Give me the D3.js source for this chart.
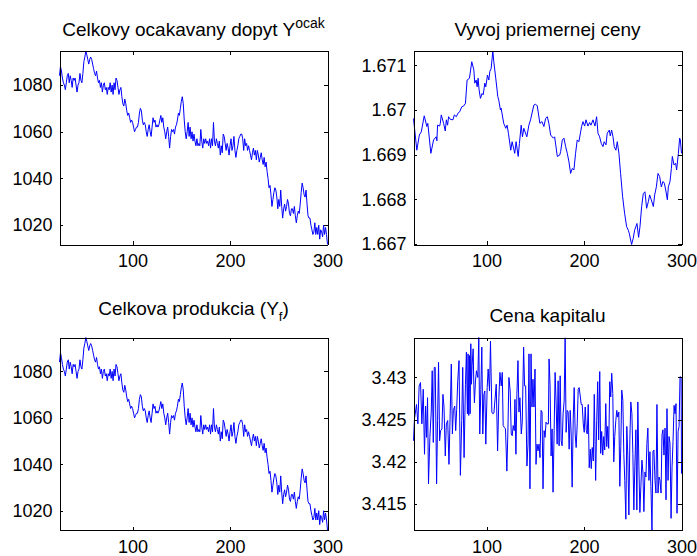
<!DOCTYPE html>
<html>
<head>
<meta charset="utf-8">
<script src="https://cdn.jsdelivr.net/npm/d3@7"></script>
<style>
  body { margin: 0; background: #fff; }
  #viz svg { display: block; }
</style>
</head>
<body>
<div id="viz"></div>
<script>
// time steps on the x axis
const casy = d3.range(25, 301);

// Celkovy ocakavany dopyt (one value per step 25..300)
const yOcakavany = [
  1084, 1088, 1086, 1083, 1081, 1080, 1078, 1081, 1084, 1085,
  1081, 1084, 1082, 1079, 1083, 1082, 1083, 1080, 1077, 1080,
  1081, 1085, 1082, 1081, 1085, 1090, 1092, 1094.6, 1093, 1091,
  1089, 1091, 1092, 1091, 1089, 1087, 1085, 1084, 1086, 1083,
  1081, 1082, 1079, 1081, 1077, 1080, 1081, 1078, 1079, 1076,
  1079, 1078, 1081, 1077, 1080, 1076, 1081, 1078, 1083, 1082,
  1079, 1076, 1078, 1079, 1075, 1072, 1071, 1074, 1072, 1069,
  1067, 1068, 1066, 1064, 1065, 1064, 1062, 1060, 1061, 1062,
  1062, 1064, 1068, 1070, 1069, 1065, 1063, 1064, 1063, 1060,
  1058, 1061, 1063, 1060, 1058, 1062, 1066, 1064, 1065, 1062,
  1063, 1062, 1063, 1065, 1067, 1064, 1066, 1062, 1060, 1057,
  1060, 1062, 1058, 1053, 1058, 1061, 1060, 1061, 1059, 1062,
  1063, 1065, 1068, 1067, 1070, 1073, 1075, 1072, 1065, 1060,
  1057, 1060, 1064, 1058, 1062, 1057, 1060, 1056, 1059, 1056,
  1054, 1057, 1054, 1055, 1054, 1061, 1056, 1053, 1057, 1055,
  1057, 1055, 1056, 1054, 1057, 1053, 1057, 1054, 1064, 1056,
  1054, 1057, 1055, 1053, 1056, 1050, 1054, 1051, 1059, 1058,
  1055, 1052, 1055, 1053, 1050, 1054, 1057, 1052, 1054, 1058,
  1052, 1049, 1052, 1054, 1057, 1058, 1059, 1059, 1057, 1052,
  1057, 1054, 1055, 1052, 1054, 1052, 1050, 1048, 1051, 1053,
  1050, 1052, 1048, 1052, 1050, 1047, 1049, 1051, 1048, 1046,
  1049, 1045, 1047, 1043, 1040, 1036, 1037, 1033, 1028, 1031,
  1034, 1036, 1035, 1032, 1027, 1031, 1028, 1035, 1028, 1023,
  1027, 1029, 1026, 1028, 1031, 1029, 1025, 1024, 1027, 1027,
  1025, 1028, 1024, 1021, 1024, 1026, 1025, 1029, 1034, 1038,
  1036, 1033, 1032, 1035, 1029, 1024, 1023, 1023, 1020, 1018,
  1016, 1017, 1021, 1016, 1019, 1016, 1020, 1014, 1018, 1017,
  1015, 1020, 1016, 1019, 1016, 1011.7
];
// Celkova produkcia looks identical in the picture
const yProdukcia = yOcakavany;

// Vyvoj priemernej ceny (read points: step, value)
const cenaT = [
  25, 28.4, 31, 33, 36, 38.7, 39.7, 42.8, 45.6, 48.3, 49, 49.7, 51.8, 52.5, 53.5, 55.9, 57.6, 58.7, 60, 61,
  62.8, 65.5, 66.9, 68.9, 70.7, 72.4, 74.5, 76.5, 78.3, 80, 82.4, 84.8, 86.9, 87.9, 89.3, 90.3, 91.3, 92.3, 93.7, 95.4,
  96.5, 98.2, 99.2, 100.9, 102.3, 103.3, 104.7, 106.4, 107.4, 109.4, 111.5, 112.5, 114.2, 114.9, 117.6, 119.7, 121, 122.4, 124.8, 126.2,
  128.9, 130.3, 132.4, 133.7, 135.5, 136.8, 138.2, 141.3, 143.4, 145.1, 148.5, 150.3, 152, 154.7, 156.8, 158.8, 160.6, 162.3, 164, 165.7,
  168.5, 169.8, 172.6, 175, 176, 177.7, 179.4, 181.1, 182.8, 184.5, 186.2, 187.9, 189.6, 191.3, 193, 194.7, 196.5, 197.5, 198.9, 200.6,
  202, 204, 205.7, 207.1, 209.2, 211.2, 212.9, 214.3, 216, 217.7, 219.4, 220.7, 222.5, 223.8, 225.9, 226.9, 228.3, 229.7, 231, 232.7,
  234.1, 235.8, 237.5, 239.6, 241.6, 243.7, 245.4, 246.4, 248.8, 250.5, 251.9, 254.3, 256, 257.4, 259.1, 260.8, 262.5, 264.2, 266, 267.3,
  269, 271.1, 272.5, 274.2, 275.9, 277.6, 279.3, 281, 282.4, 283.8, 285.5, 286.5, 288.2, 289.6, 290.6, 292.3, 294, 295, 296.8, 298.1,
  298.8, 300
];
const cenaV = [
  1.66981, 1.66910, 1.66944, 1.66951, 1.66987, 1.66963, 1.66970, 1.66903, 1.66933, 1.66940, 1.66931, 1.66966, 1.66964, 1.66970, 1.66989, 1.66970, 1.66953, 1.66978, 1.66966, 1.66985,
  1.66979, 1.66978, 1.66989, 1.66985, 1.66993, 1.66996, 1.67007, 1.67009, 1.67015, 1.67067, 1.67071, 1.67108, 1.67090, 1.67060, 1.67067, 1.67052, 1.67071, 1.67045, 1.67026, 1.67037,
  1.67034, 1.67060, 1.67052, 1.67078, 1.67067, 1.67086, 1.67093, 1.67132, 1.67108, 1.67071, 1.67030, 1.67022, 1.67000, 1.67004, 1.66970, 1.66959, 1.66966, 1.66948, 1.66910, 1.66929,
  1.66903, 1.66929, 1.66896, 1.66925, 1.66966, 1.66940, 1.66959, 1.66940, 1.66966, 1.66978, 1.67011, 1.67013, 1.67009, 1.66970, 1.66974, 1.66963, 1.66981, 1.66985, 1.66969, 1.66944,
  1.66937, 1.66940, 1.66896, 1.66899, 1.66907, 1.66933, 1.66937, 1.66918, 1.66903, 1.66884, 1.66858, 1.66869, 1.66866, 1.66903, 1.66933, 1.66929, 1.66951, 1.66963, 1.66974, 1.66964,
  1.66978, 1.66964, 1.66972, 1.66966, 1.66978, 1.66964, 1.66985, 1.66948, 1.66940, 1.66925, 1.66918, 1.66929, 1.66922, 1.66948, 1.66955, 1.66942, 1.66955, 1.66940, 1.66918, 1.66910,
  1.66929, 1.66903, 1.66858, 1.66806, 1.66769, 1.66739, 1.66731, 1.66724, 1.66699, 1.66713, 1.66731, 1.66746, 1.66715, 1.66739, 1.66784, 1.66813, 1.66817, 1.66780, 1.66795, 1.66810,
  1.66799, 1.66784, 1.66810, 1.66828, 1.66858, 1.66851, 1.66828, 1.66840, 1.66836, 1.66821, 1.66799, 1.66828, 1.66840, 1.66869, 1.66896, 1.66877, 1.66881, 1.66866, 1.66903, 1.66937,
  1.66933, 1.66903
];

// Cena kapitalu (read points: step, value)
const kapitalT = [
  25, 26, 28.1, 29.5, 30.8, 32.2, 33.6, 35, 36.3, 37.4, 38.4, 39.4, 40.4, 41.8, 43.2, 44.2, 45.3, 46.3, 47.3, 48.7,
  49.7, 50.7, 51.8, 52.8, 54.2, 55.2, 56.3, 57.6, 58.7, 60.1, 61.4, 62.8, 63.8, 64.9, 65.9, 67.3, 68.3, 69.3, 70.4, 71.7,
  73.1, 74.5, 75.5, 76.9, 78.3, 79.3, 80.3, 81, 81.7, 82.4, 83.1, 83.8, 84.5, 85.1, 86.2, 86.9, 87.5, 88.6, 89.6, 91,
  92, 93, 94.1, 95.1, 96.1, 97.2, 98.2, 99.2, 100.6, 101.6, 103, 104, 105.4, 106.4, 107.5, 108.5, 109.9, 111.3, 112.6, 113.7,
  115, 116.1, 117, 118.1, 119.4, 120.8, 121.8, 122.9, 124.2, 125.3, 126.3, 127.3, 128.4, 129.1, 130.1, 131.1, 132.2, 133.2, 134.2, 135.6,
  136.6, 138, 139, 140.1, 141.4, 142.5, 143.5, 144.5, 145.6, 146.6, 147.6, 148.6, 149.7, 150.7, 151.7, 152.8, 153.8, 154.8, 155.9, 156.9,
  157.9, 159, 160, 161, 162, 163.4, 164.1, 165.1, 166.2, 167.2, 168.2, 169.3, 170.3, 171.3, 172.4, 173.4, 174.4, 175.5, 176.5, 177.5,
  178.5, 179.6, 180.6, 181.6, 182.7, 183.7, 184.7, 185.8, 186.8, 187.8, 188.9, 189.9, 190.9, 191.9, 193, 194, 195, 196.1, 197.1, 198.1,
  199.2, 200.2, 201.2, 202.3, 203.3, 204.3, 205.3, 206.4, 207.4, 208.4, 209.5, 210.5, 211.9, 213, 214, 215, 216.1, 217.1, 218.1, 219.2,
  220.2, 221.2, 222.3, 223.3, 224.3, 225.3, 226.4, 227.4, 228.4, 229.5, 230.5, 231.5, 232.6, 233.6, 234.6, 235.7, 236.7, 237.7, 238.7, 239.8,
  240.8, 241.8, 242.9, 243.9, 244.9, 246, 247, 248, 249.1, 250.1, 251.1, 252.1, 253.2, 254.2, 255.2, 256.3, 257.3, 258.3, 259.4, 260.4,
  261.4, 262.5, 263.5, 264.5, 265.5, 266.6, 267.6, 268.6, 269.7, 270.7, 271.7, 272.8, 273.8, 274.8, 275.9, 276.9, 277.9, 279, 280, 281,
  282, 283.1, 284.1, 285.1, 286.2, 287.2, 288.2, 289.3, 290.3, 291.3, 292.4, 293.4, 294.4, 295.4, 296.5, 297.5, 298.5, 299.6, 300
];
const kapitalV = [
  3.4225, 3.4251, 3.4268, 3.4245, 3.4290, 3.4294, 3.4245, 3.4286, 3.4209, 3.4266, 3.4229, 3.4276, 3.4174, 3.4229, 3.4259, 3.4308, 3.4223, 3.4312, 3.4312, 3.4174,
  3.4249, 3.4318, 3.4225, 3.4237, 3.4239, 3.4280, 3.4265, 3.4207, 3.4245, 3.4249, 3.4197, 3.4265, 3.4316, 3.4233, 3.4261, 3.4266, 3.4237, 3.4262, 3.4296, 3.4320,
  3.4184, 3.4249, 3.4312, 3.4205, 3.4292, 3.4330, 3.4257, 3.4328, 3.4255, 3.4326, 3.4257, 3.4340, 3.4292, 3.4314, 3.4334, 3.4292, 3.4270, 3.4296, 3.4308, 3.4300,
  3.43474, 3.4233, 3.4286, 3.4336, 3.4233, 3.4280, 3.4284, 3.4221, 3.4288, 3.4310, 3.4284, 3.4343, 3.4259, 3.4257, 3.4258, 3.4272, 3.4292, 3.4213, 3.4276, 3.4306,
  3.4290, 3.4306, 3.4243, 3.4241, 3.4239, 3.4189, 3.4233, 3.4300, 3.4284, 3.4233, 3.4231, 3.4243, 3.4237, 3.4274, 3.4209, 3.4280, 3.4320, 3.4259, 3.4276, 3.4233,
  3.4247, 3.4336, 3.4290, 3.4290, 3.4195, 3.4221, 3.4328, 3.4168, 3.4328, 3.4265, 3.4298, 3.4265, 3.4310, 3.4197, 3.4221, 3.4213, 3.4221, 3.4205, 3.4261, 3.4259,
  3.4168, 3.4237, 3.4229, 3.4247, 3.4245, 3.4245, 3.4322, 3.4292, 3.4207, 3.4239, 3.4164, 3.4237, 3.4306, 3.4272, 3.4221, 3.4296, 3.4219, 3.4302, 3.4225, 3.4219,
  3.4257, 3.4272, 3.4347, 3.4235, 3.4261, 3.4259, 3.4215, 3.4261, 3.4233, 3.4170, 3.4251, 3.4288, 3.4233, 3.4217, 3.4245, 3.4286, 3.4288, 3.4278, 3.4268, 3.4268,
  3.4245, 3.4235, 3.4265, 3.4237, 3.4233, 3.4268, 3.4193, 3.4215, 3.4192, 3.4217, 3.4201, 3.4280, 3.4178, 3.4249, 3.4295, 3.4226, 3.4307, 3.4210, 3.4236, 3.4208,
  3.4230, 3.4214, 3.4269, 3.4218, 3.4242, 3.4216, 3.4295, 3.4277, 3.4305, 3.4281, 3.4200, 3.4230, 3.4249, 3.4261, 3.4253, 3.4259, 3.4171, 3.4218, 3.4285, 3.4273,
  3.4210, 3.4178, 3.4132, 3.4242, 3.4208, 3.4137, 3.4226, 3.4271, 3.4257, 3.4210, 3.4143, 3.4194, 3.4238, 3.4143, 3.4271, 3.4194, 3.4140, 3.4171, 3.4202, 3.4188,
  3.4141, 3.4188, 3.4182, 3.4222, 3.4240, 3.4178, 3.4212, 3.4171, 3.41192, 3.4212, 3.4214, 3.4178, 3.4163, 3.4268, 3.4163, 3.4182, 3.4178, 3.4163, 3.4232, 3.4238,
  3.4208, 3.4240, 3.4155, 3.4263, 3.4178, 3.4230, 3.4222, 3.4133, 3.4194, 3.4224, 3.4267, 3.4257, 3.4269, 3.4139, 3.4236, 3.4242, 3.4301, 3.4300, 3.4186
];

const xTicks = [100, 200, 300];
const yTicksDopyt = [1020, 1040, 1060, 1080];
const yTicksCena = [1.667, 1.668, 1.669, 1.67, 1.671];
const yTicksKapital = [3.415, 3.42, 3.425, 3.43];

const width = 697;
const height = 556;
const fontFamily = '"Liberation Sans", Arial, Helvetica, sans-serif';
const tickLen = 3.5;

const svg = d3
  .select('#viz')
  .append('svg')
  .attr('width', width)
  .attr('height', height)
  .style('background', '#fff');

const panels = [
  {
    left: 59.5, top: 51, w: 268, h: 193.5,
    xs: casy, ys: yOcakavany, yTicks: yTicksDopyt, titleY: 36,
    title: [
      { text: 'Celkovy ocakavany dopyt Y', size: 19, dy: 0 },
      { text: 'ocak', size: 14, dy: -8 },
    ],
  },
  {
    left: 413.5, top: 51, w: 268, h: 193.5,
    xs: cenaT, ys: cenaV, yTicks: yTicksCena, titleY: 36,
    title: [{ text: 'Vyvoj priemernej ceny', size: 19, dy: 0 }],
  },
  {
    left: 59.5, top: 337.5, w: 268, h: 192.5,
    xs: casy, ys: yProdukcia, yTicks: yTicksDopyt, titleY: 315,
    title: [
      { text: 'Celkova produkcia (Y', size: 19, dy: 0 },
      { text: 'f', size: 13, dy: 6 },
      { text: ')', size: 19, dy: -6 },
    ],
  },
  {
    left: 413.5, top: 337.5, w: 268, h: 192.5,
    xs: kapitalT, ys: kapitalV, yTicks: yTicksKapital, titleY: 321.5,
    title: [{ text: 'Cena kapitalu', size: 19, dy: 0 }],
  },
];

const fmt = d3.format('.4~f');

panels.forEach((p) => {
  const g = svg.append('g').attr('transform', `translate(${p.left},${p.top})`);

  const x = d3.scaleLinear().domain([25, 300]).range([0, p.w]);
  const y = d3.scaleLinear().domain(d3.extent(p.ys)).range([p.h, 0]);

  // data line
  const line = d3
    .line()
    .x((d, i) => x(p.xs[i]))
    .y((d) => y(d));
  g.append('path')
    .datum(p.ys)
    .attr('d', line)
    .attr('fill', 'none')
    .attr('stroke', '#0000ff')
    .attr('stroke-width', 1)
    .attr('stroke-linejoin', 'round');

  // axes, ticks pointing inward on all four sides
  const bottom = g
    .append('g')
    .attr('transform', `translate(0,${p.h})`)
    .call(d3.axisBottom(x).tickValues(xTicks).tickSizeInner(-tickLen).tickSizeOuter(0).tickPadding(10).tickFormat(d3.format('d')));
  const left = g
    .append('g')
    .call(d3.axisLeft(y).tickValues(p.yTicks).tickSizeInner(-tickLen).tickSizeOuter(0).tickPadding(7).tickFormat(fmt));
  const top = g
    .append('g')
    .call(d3.axisTop(x).tickValues(xTicks).tickSizeInner(-tickLen).tickSizeOuter(0).tickFormat(''));
  const right = g
    .append('g')
    .attr('transform', `translate(${p.w},0)`)
    .call(d3.axisRight(y).tickValues(p.yTicks).tickSizeInner(-tickLen).tickSizeOuter(0).tickFormat(''));

  [bottom, left, top, right].forEach((a) => {
    a.attr('font-family', fontFamily).attr('font-size', 18);
    a.selectAll('path, line').attr('stroke', '#000').attr('shape-rendering', 'crispEdges');
    a.selectAll('text').attr('fill', '#000');
  });

  // title with super/subscript parts
  const t = svg
    .append('text')
    .attr('x', p.left + p.w / 2)
    .attr('y', p.titleY)
    .attr('text-anchor', 'middle')
    .attr('font-family', fontFamily)
    .attr('fill', '#000');
  p.title.forEach((s) => {
    t.append('tspan').attr('font-size', s.size).attr('dy', s.dy).text(s.text);
  });
});
</script>
</body>
</html>
